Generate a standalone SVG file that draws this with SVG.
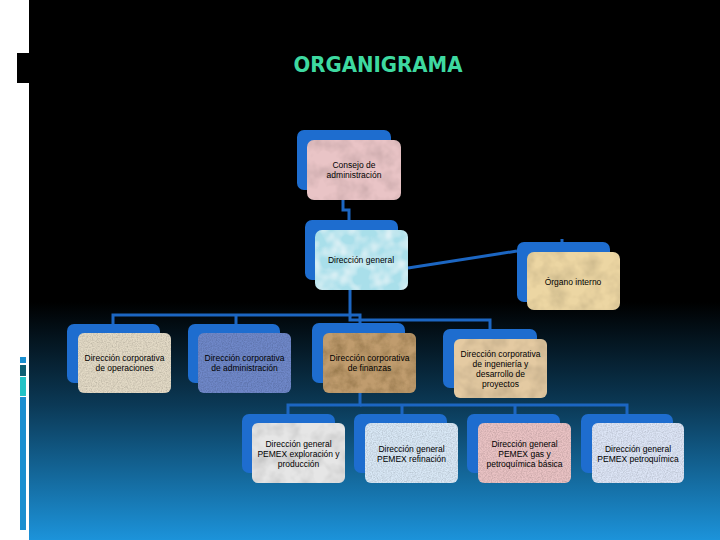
<svg xmlns="http://www.w3.org/2000/svg" width="720" height="540" viewBox="0 0 720 540">
<style>
.back{fill:#1e6dcf}
.front{stroke:none}
.lbl{font-family:"Liberation Sans",Arial,sans-serif;font-size:8.5px;fill:#000;text-anchor:middle}
.conn{fill:none;stroke:#1c66c2;stroke-width:3}
</style>
<defs>
<linearGradient id="bg" x1="0" y1="0" x2="0" y2="540" gradientUnits="userSpaceOnUse">
<stop offset="0" stop-color="#000"/>
<stop offset="0.56" stop-color="#000"/>
<stop offset="0.75" stop-color="#0b3956"/>
<stop offset="1" stop-color="#1c93da"/>
</linearGradient>
<filter id="grain" x="0" y="0" width="1" height="1">
<feTurbulence type="fractalNoise" baseFrequency="0.8" numOctaves="2" seed="2" result="t"/>
<feColorMatrix in="t" type="matrix" values="0 0 0 0 0  0 0 0 0 0  0 0 0 0 0  0.6 0 0 0 -0.2" result="a"/>
<feComposite in="a" in2="SourceGraphic" operator="in" result="b"/>
<feMerge><feMergeNode in="SourceGraphic"/><feMergeNode in="b"/></feMerge>
</filter>
<filter id="soft" x="0" y="0" width="1" height="1">
<feTurbulence type="fractalNoise" baseFrequency="0.06" numOctaves="3" seed="5" result="t"/>
<feColorMatrix in="t" type="matrix" values="0 0 0 0 0  0 0 0 0 0  0 0 0 0 0  0.5 0 0 0 -0.18" result="a"/>
<feComposite in="a" in2="SourceGraphic" operator="in" result="b"/>
<feMerge><feMergeNode in="SourceGraphic"/><feMergeNode in="b"/></feMerge>
</filter>
<filter id="water" x="0" y="0" width="1" height="1">
<feTurbulence type="fractalNoise" baseFrequency="0.07" numOctaves="2" seed="9" result="t"/>
<feColorMatrix in="t" type="matrix" values="0 0 0 0 1  0 0 0 0 1  0 0 0 0 1  1.4 0 0 0 -0.55" result="a"/>
<feComposite in="a" in2="SourceGraphic" operator="in" result="b"/>
<feMerge><feMergeNode in="SourceGraphic"/><feMergeNode in="b"/></feMerge>
</filter>
<filter id="crumple" x="0" y="0" width="1" height="1">
<feTurbulence type="fractalNoise" baseFrequency="0.09" numOctaves="4" seed="4" result="t"/>
<feColorMatrix in="t" type="matrix" values="0 0 0 0 0.25  0 0 0 0 0.15  0 0 0 0 0.05  1.3 0 0 0 -0.45" result="a"/>
<feComposite in="a" in2="SourceGraphic" operator="in" result="b"/>
<feMerge><feMergeNode in="SourceGraphic"/><feMergeNode in="b"/></feMerge>
</filter>
</defs>

<rect x="0" y="0" width="720" height="540" fill="#fff"/>
<rect x="29" y="0" width="691" height="540" fill="url(#bg)"/>
<rect x="17" y="53" width="12" height="30" fill="#000"/>
<rect x="20" y="357" width="6" height="6" fill="#1a8fd0"/>
<rect x="20" y="365" width="6" height="11" fill="#0e5f73"/>
<rect x="20" y="377" width="6" height="19" fill="#22c3c6"/>
<rect x="20" y="397" width="6" height="133" fill="#1a8fd0"/>

<text x="378" y="72" font-family="'DejaVu Sans Condensed','DejaVu Sans',sans-serif" font-stretch="condensed" font-weight="bold" font-size="22" fill="#3ed9a0" text-anchor="middle" textLength="169" lengthAdjust="spacingAndGlyphs">ORGANIGRAMA</text>

<g id="connectors" class="conn">
<path d="M343,200 V210 H349 V220"/>
<path d="M408,268 L517,251"/>
<path d="M562,239 V243"/>
<path d="M350,290 V315 H113 V324"/>
<path d="M236,315 V324"/>
<path d="M350,315 H360 V323"/>
<path d="M350,315 V320 H490 V329"/>
<path d="M360,393 V405 H288 V414"/>
<path d="M360,405 H627 V414"/>
<path d="M402,405 V414"/>
<path d="M515,405 V414"/>
</g>

<g id="consejo">
<rect class="back" x="297" y="130" width="94" height="60" rx="7"/>
<rect class="front" x="307" y="140" width="94" height="60" rx="7" fill="#e9c4c6" filter="url(#soft)"/>
<text class="lbl" x="354" y="168">Consejo de</text>
<text class="lbl" x="354" y="178">administración</text>
</g>

<g id="direccion-general">
<rect class="back" x="305" y="220" width="93" height="60" rx="7"/>
<rect class="front" x="315" y="230" width="93" height="60" rx="7" fill="#a9dfea" filter="url(#water)"/>
<text class="lbl" x="361" y="263">Dirección general</text>
</g>

<g id="organo-interno">
<rect class="back" x="517" y="242" width="93" height="60" rx="7"/>
<rect class="front" x="527" y="252" width="93" height="58" rx="7" fill="#ecd6a3" filter="url(#soft)"/>
<text class="lbl" x="573" y="285">Órgano interno</text>
</g>

<g id="dc-operaciones">
<rect class="back" x="67" y="324" width="93" height="59" rx="7"/>
<rect class="front" x="78" y="333" width="93" height="60" rx="6" fill="#e3dac6" filter="url(#grain)"/>
<text class="lbl" x="124.5" y="361">Dirección corporativa</text>
<text class="lbl" x="124.5" y="371">de operaciones</text>
</g>

<g id="dc-administracion">
<rect class="back" x="188" y="324" width="92" height="59" rx="7"/>
<rect class="front" x="198" y="333" width="93" height="60" rx="6" fill="#7088c9" filter="url(#grain)"/>
<text class="lbl" x="244.5" y="361">Dirección corporativa</text>
<text class="lbl" x="244.5" y="371">de administración</text>
</g>

<g id="dc-finanzas">
<rect class="back" x="312" y="323" width="93" height="60" rx="7"/>
<rect class="front" x="323" y="333" width="93" height="60" rx="6" fill="#c09c6e" filter="url(#crumple)"/>
<text class="lbl" x="369.5" y="361">Dirección corporativa</text>
<text class="lbl" x="369.5" y="371">de finanzas</text>
</g>

<g id="dc-ingenieria">
<rect class="back" x="443" y="329" width="94" height="59" rx="7"/>
<rect class="front" x="454" y="339" width="93" height="59" rx="6" fill="#e4caa2" filter="url(#soft)"/>
<text class="lbl" x="500.5" y="357">Dirección corporativa</text>
<text class="lbl" x="500.5" y="367">de ingeniería y</text>
<text class="lbl" x="500.5" y="377">desarrollo de</text>
<text class="lbl" x="500.5" y="387">proyectos</text>
</g>

<g id="pemex-exploracion">
<rect class="back" x="242" y="414" width="93" height="59" rx="7"/>
<rect class="front" x="252" y="423" width="93" height="60" rx="6" fill="#e6e6e6" filter="url(#soft)"/>
<text class="lbl" x="298.5" y="447">Dirección general</text>
<text class="lbl" x="298.5" y="457">PEMEX exploración y</text>
<text class="lbl" x="298.5" y="467">producción</text>
</g>

<g id="pemex-refinacion">
<rect class="back" x="354" y="414" width="93" height="59" rx="7"/>
<rect class="front" x="365" y="423" width="93" height="60" rx="6" fill="#d9e8f6" filter="url(#grain)"/>
<text class="lbl" x="411.5" y="452">Dirección general</text>
<text class="lbl" x="411.5" y="462">PEMEX refinación</text>
</g>

<g id="pemex-gas">
<rect class="back" x="467" y="414" width="93" height="59" rx="7"/>
<rect class="front" x="478" y="423" width="93" height="60" rx="6" fill="#eac3c4" filter="url(#grain)"/>
<text class="lbl" x="524.5" y="447">Dirección general</text>
<text class="lbl" x="524.5" y="457">PEMEX gas y</text>
<text class="lbl" x="524.5" y="467">petroquímica básica</text>
</g>

<g id="pemex-petroquimica">
<rect class="back" x="581" y="414" width="92" height="59" rx="7"/>
<rect class="front" x="592" y="423" width="92" height="60" rx="6" fill="#dde5f6" filter="url(#grain)"/>
<text class="lbl" x="638" y="452">Dirección general</text>
<text class="lbl" x="638" y="462">PEMEX petroquímica</text>
</g>
</svg>
